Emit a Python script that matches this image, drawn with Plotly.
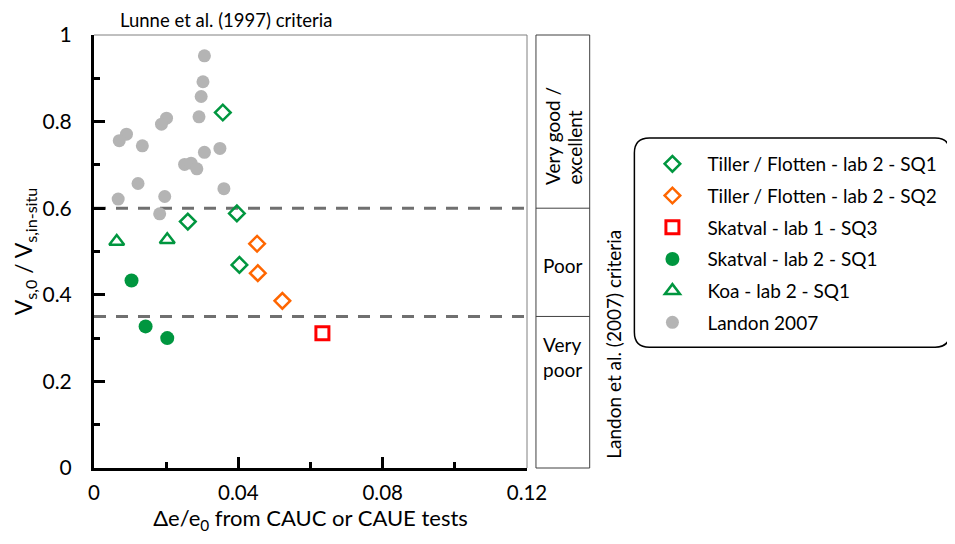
import plotly.graph_objects as go

# data
tiller_sq1_x = [0.0357, 0.0396, 0.0260, 0.0403]
tiller_sq1_y = [0.821, 0.588, 0.569, 0.469]

tiller_sq2_x = [0.0452, 0.0454, 0.0522]
tiller_sq2_y = [0.518, 0.450, 0.386]

skatval_lab1_x = [0.0633]
skatval_lab1_y = [0.311]

skatval_lab2_x = [0.0104, 0.0143, 0.0203]
skatval_lab2_y = [0.433, 0.327, 0.300]

koa_x = [0.0063, 0.0203]
koa_y = [0.523, 0.527]

landon_x = [0.0306, 0.0302, 0.0297, 0.0291, 0.0201, 0.0187, 0.0090, 0.0070, 0.0134, 0.0349,
            0.0306, 0.0251, 0.0269, 0.0285, 0.0360, 0.0122, 0.0067, 0.0196, 0.0182]
landon_y = [0.952, 0.892, 0.858, 0.811, 0.808, 0.794, 0.771, 0.756, 0.744, 0.738,
            0.729, 0.701, 0.704, 0.691, 0.645, 0.657, 0.621, 0.627, 0.587]

thresholds = [0.6, 0.35]
x_range = [0, 0.12]

GREEN = "#00963F"
ORANGE = "#FF6600"
RED = "#FF0000"
GREY = "#B4B4B4"
FONT = "Lato"

fig = go.Figure()

series = [
    ("Tiller / Flotten - lab 2 - SQ1", tiller_sq1_x, tiller_sq1_y,
     dict(symbol="diamond-open", size=12, color=GREEN, line=dict(width=2.5, color=GREEN))),
    ("Tiller / Flotten - lab 2 - SQ2", tiller_sq2_x, tiller_sq2_y,
     dict(symbol="diamond-open", size=12, color=ORANGE, line=dict(width=2.5, color=ORANGE))),
    ("Skatval - lab 1 - SQ3", skatval_lab1_x, skatval_lab1_y,
     dict(symbol="square-open", size=13, color=RED, line=dict(width=3, color=RED))),
    ("Skatval - lab 2 - SQ1", skatval_lab2_x, skatval_lab2_y,
     dict(symbol="circle", size=14, color=GREEN)),
    ("Koa - lab 2 - SQ1", koa_x, koa_y,
     dict(symbol="triangle-up-open", size=13, color=GREEN, line=dict(width=2.5, color=GREEN))),
    ("Landon 2007", landon_x, landon_y,
     dict(symbol="circle", size=13, color=GREY)),
]

for name, xs, ys, mk in series:
    fig.add_trace(go.Scatter(x=xs, y=ys, mode="markers", name=name, marker=mk, legendgroup=name))

# threshold lines
for t in thresholds:
    fig.add_shape(type="line", xref="x", yref="y", x0=x_range[0], x1=x_range[1], y0=t, y1=t,
                  line=dict(color="#707070", width=3, dash="12px,10px"), layer="below")

# thin frame on top and right
fig.add_shape(type="line", xref="paper", yref="paper", x0=0, x1=1, y0=1, y1=1,
              line=dict(color="#808080", width=1))
fig.add_shape(type="line", xref="paper", yref="paper", x0=1, x1=1, y0=0, y1=1,
              line=dict(color="#808080", width=1))

# Landon criteria boxes
bx0, bx1 = 1.0207, 1.1448
fig.add_shape(type="rect", xref="paper", yref="paper", x0=bx0, x1=bx1, y0=0, y1=1,
              line=dict(color="#404040", width=1))
for t in thresholds:
    fig.add_shape(type="line", xref="paper", yref="paper", x0=bx0, x1=bx1, y0=t, y1=t,
                  line=dict(color="#404040", width=1))

box_font = dict(family=FONT, size=19, color="#000000")
fig.add_annotation(text="Very good /", xref="paper", yref="paper", x=1.0598, y=0.649,
                   xanchor="center", yanchor="bottom", textangle=-90, showarrow=False, font=box_font)
fig.add_annotation(text="excellent", xref="paper", yref="paper", x=1.110, y=0.649,
                   xanchor="center", yanchor="bottom", textangle=-90, showarrow=False, font=box_font)
fig.add_annotation(text="Poor", xref="paper", yref="paper", x=1.032, y=0.467, xanchor="left",
                   showarrow=False, font=box_font, align="left")
fig.add_annotation(text="Very<br>poor", xref="paper", yref="paper", x=1.032, y=0.196, xanchor="left",
                   showarrow=False, font=box_font, align="left")
fig.add_annotation(text="Landon et al. (2007) criteria", xref="paper", yref="paper", x=1.2, y=0.286,
                   xanchor="center", yanchor="middle", textangle=-90, showarrow=False,
                   font=dict(family=FONT, size=19, color="#000000"))
fig.add_annotation(text="Lunne et al. (1997) criteria", xref="paper", yref="paper", x=0.055, y=1.0,
                   xanchor="left", yanchor="bottom", yshift=2, showarrow=False,
                   font=dict(family=FONT, size=18.5, color="#000000"))

# rounded legend frame
lx0, lx1, ly0, ly1 = 1.248, 1.977, 0.279, 0.762
rx, ry = 0.0345, 0.0346
path = (f"M {lx0+rx},{ly1} L {lx1-rx},{ly1} Q {lx1},{ly1} {lx1},{ly1-ry} "
        f"L {lx1},{ly0+ry} Q {lx1},{ly0} {lx1-rx},{ly0} L {lx0+rx},{ly0} "
        f"Q {lx0},{ly0} {lx0},{ly0+ry} L {lx0},{ly1-ry} Q {lx0},{ly1} {lx0+rx},{ly1} Z")
fig.add_shape(type="path", xref="paper", yref="paper", path=path,
              line=dict(color="#000000", width=1.5))

# the page body adds 8px around the figure, so the figure is 8px smaller
fig.update_layout(
    width=947, height=536,
    margin=dict(l=86, r=426, t=27, b=76),
    plot_bgcolor="white", paper_bgcolor="white",
    font=dict(family=FONT, color="#000000"),
    showlegend=True,
    legend=dict(x=1.255, y=0.746, xanchor="left", yanchor="top", bgcolor="rgba(0,0,0,0)",
                font=dict(family=FONT, size=19), itemwidth=60, tracegroupgap=4,
                traceorder="grouped"),
    xaxis=dict(range=x_range, tickvals=[0, 0.04, 0.08, 0.12], ticktext=["0", "0.04", "0.08", "0.12"],
               showgrid=False, zeroline=False, showline=True, linecolor="#000000", linewidth=3,
               ticks="inside", ticklen=11, tickwidth=3, tickcolor="#000000",
               minor=dict(ticks="inside", ticklen=6, tickwidth=3, dtick=0.02, tickcolor="#000000"),
               tickfont=dict(size=20.5), ticklabelstandoff=4,
               title=dict(text="Δe/e<sub>0</sub> from CAUC or CAUE tests", font=dict(size=22), standoff=9)),
    yaxis=dict(range=[0, 1], tickvals=[0, 0.2, 0.4, 0.6, 0.8, 1], ticktext=["0", "0.2", "0.4", "0.6", "0.8", "1"],
               showgrid=False, zeroline=False, showline=True, linecolor="#000000", linewidth=3,
               ticks="inside", ticklen=11, tickwidth=3, tickcolor="#000000",
               minor=dict(ticks="inside", ticklen=6, tickwidth=3, dtick=0.1, tickcolor="#000000"),
               tickfont=dict(size=21), ticklabelstandoff=15,
               title=dict(text="V<sub>s,0</sub> / V<sub>s,in-situ</sub>", font=dict(size=23), standoff=4)),
)

fig.write_html("out.html")
